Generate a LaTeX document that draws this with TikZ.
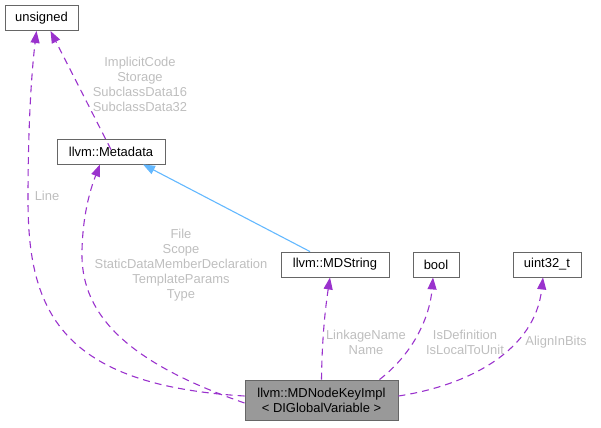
\documentclass[tikz,border=0pt]{standalone}
\usepackage{fontspec}
\setmainfont{Liberation Sans}
\usetikzlibrary{arrows.meta}
\definecolor{depcol}{HTML}{9A32CD}
\definecolor{inhcol}{HTML}{63B8FF}
\definecolor{lblcol}{HTML}{BEBEBE}
\begin{document}
\begin{tikzpicture}[x=1bp,y=-1bp,
  font=\fontsize{13}{15}\selectfont,
  box/.style={draw=black!60,line width=0.9pt,fill=white,minimum height=25bp,inner sep=2bp},
  dep/.style={draw=depcol,line width=1.1pt,dash pattern=on 7bp off 5bp,-{Triangle[length=12bp,width=9bp,fill=depcol]}},
  inh/.style={draw=inhcol,line width=1.1pt,-{Triangle[length=12bp,width=9bp,fill=inhcol]}},
  lbl/.style={text=lblcol,align=center,inner sep=0pt}]
  \useasboundingbox (0,0) rectangle (601,427);
  % classes
  \node[box,minimum width=73bp] (uns) at (41.5,18) {unsigned};
  \node[box,minimum width=108bp] (meta) at (111,151.5) {llvm::Metadata};
  \node[box,minimum width=108bp] (mds) at (335,264.5) {llvm::MDString};
  \node[box,minimum width=46bp] (bool) at (436,264.5) {bool};
  \node[box,minimum width=68bp] (u32) at (547,264.5) {uint32\_t};
  \node[box,fill=black!40,minimum width=153bp,minimum height=40bp,align=center] (impl) at (321.5,400)
    {llvm::MDNodeKeyImpl\\[0pt]< DIGlobalVariable >};
  % usage edges
  \draw[dep] ([yshift=4bp]impl.west) .. controls (60,385) and (28,310) .. (28,200)
    .. controls (28,110) and (33,60) .. ([xshift=-5bp]uns.south);
  \draw[dep] ([yshift=-11bp]meta.north) -- ([xshift=9bp]uns.south);
  \draw[dep] ([yshift=-3bp]impl.west) .. controls (120,360) and (80,310) .. (82,250)
    .. controls (83,210) and (92,185) .. ([xshift=-11bp]meta.south);
  \draw[inh] ([xshift=-25bp]mds.north) -- ([xshift=32bp]meta.south);
  \draw[dep] (impl.north) .. controls (322,340) and (325,310) .. ([xshift=-5bp]mds.south);
  \draw[dep] ([xshift=58bp]impl.north) .. controls (415,352) and (430,315) .. ([xshift=-3bp]bool.south);
  \draw[dep] ([yshift=4bp]impl.east) .. controls (470,385) and (535,350) .. ([xshift=-4bp]u32.south);
  % member labels
  \node[lbl] (lline) at (47,196) {Line};
  \node[lbl] (lmeta) at (140,84.5) {ImplicitCode\\Storage\\SubclassData16\\SubclassData32};
  \node[lbl] (lfile) at (181,265) {File\\Scope\\StaticDataMemberDeclaration\\TemplateParams\\Type};
  \node[lbl] (lname) at (366,342.5) {LinkageName\\Name};
  \node[lbl] (ldef) at (465,342.5) {IsDefinition\\IsLocalToUnit};
  \node[lbl] (lalign) at (556,342) {AlignInBits};
\end{tikzpicture}
\end{document}
